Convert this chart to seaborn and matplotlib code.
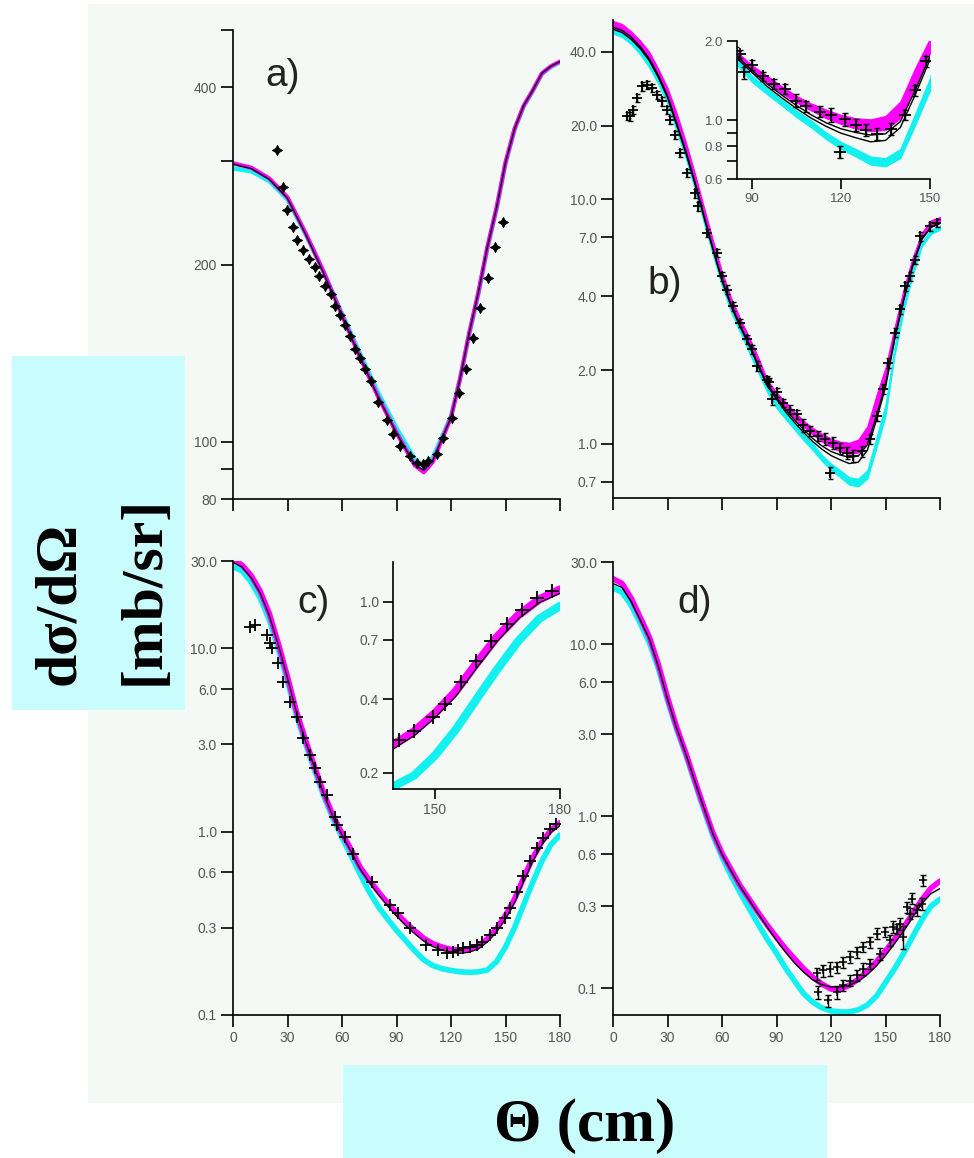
import matplotlib
matplotlib.use('Agg')
import matplotlib.pyplot as plt
import seaborn as sns
from matplotlib.patches import Rectangle
from matplotlib.ticker import FixedLocator, FixedFormatter, NullLocator

# ---------------- data ----------------
theta_a = [0, 10, 20, 30, 40, 50, 60, 70, 80, 90, 100, 105, 110, 120, 125, 130, 135, 140, 145, 150, 155, 160, 165, 170, 175, 180]
mag_a = [297, 292, 280, 260, 226, 194, 164, 139, 119, 103.6, 91.3, 88.8, 92.5, 110, 128, 153, 179, 214, 249, 298, 340, 372, 395, 422, 434, 442]
cyan_a = [291, 288, 277, 258, 225, 194, 165, 141, 121, 105.5, 93.5, 91, 94, 110.5, 128, 152, 178, 213, 248, 297, 339, 371, 394, 421, 433, 441]
black_a = [296, 291, 279, 259, 225, 193, 163.5, 139, 119, 103.5, 91.5, 89.5, 93, 110, 128, 153, 179, 214, 249, 298, 340, 372, 395, 422, 434, 442]
data_theta_a = [24.0, 27.7, 29.9, 32.8, 35.4, 38.7, 42.0, 45.1, 47.5, 50.6, 53.8, 56.1, 58.9, 61.7, 64.4, 67.2, 69.9, 72.7, 75.8, 80.0,
                84.6, 88.2, 91.9, 97.4, 101.1, 104.8, 107.5, 112.1, 115.8, 120.4, 124.6, 128.3, 131.9, 136.0, 140.5, 144.2, 148.4]
data_val_a = [313, 271, 247, 232, 220, 212, 204, 198, 191, 184, 178, 170, 164, 158, 151, 144, 139, 133, 127, 117,
              109, 103, 98.4, 94.6, 92.2, 91.6, 92.8, 95.2, 101.6, 110, 121, 133, 150, 169, 190, 214, 236]

theta_5 = [0, 5, 10, 15, 20, 25, 30, 35, 40, 45, 50, 55, 60, 65, 70, 75, 80, 85, 90, 95, 100,
           105, 110, 115, 120, 125, 130, 135, 140, 145, 150, 155, 160, 165, 170, 175, 180]

black1_b = [50.5, 49, 46, 42, 37.5, 32, 26.5, 20.5, 15.8, 11.8, 8.6, 6.3, 4.7, 3.7, 3.05, 2.55, 2.1, 1.75, 1.55, 1.38, 1.25,
            1.14, 1.05, 0.98, 0.93, 0.90, 0.88, 0.89, 0.99, 1.3, 1.75, 2.7, 3.9, 5.4, 6.9, 7.7, 8.0]
black2_b = [49.5, 48, 45, 41.2, 36.8, 31.4, 26, 20.1, 15.5, 11.6, 8.45, 6.2, 4.62, 3.64, 3.0, 2.51, 2.07, 1.72, 1.52, 1.35, 1.22,
            1.11, 1.02, 0.95, 0.895, 0.86, 0.83, 0.84, 0.94, 1.25, 1.7, 2.65, 3.85, 5.35, 6.85, 7.65, 7.95]
mag_lo_b = [50, 48.5, 45.5, 41.5, 37, 31.5, 26, 20.5, 15.8, 11.8, 8.6, 6.3, 4.7, 3.7, 3.05, 2.55, 2.1, 1.72, 1.52, 1.40, 1.27,
            1.17, 1.09, 1.02, 0.97, 0.93, 0.91, 0.92, 1.02, 1.33, 1.80, 2.75, 3.95, 5.4, 6.9, 7.8, 8.05]
mag_hi_b = [53.5, 52, 48.5, 44.5, 40, 34, 28.5, 22.5, 17.2, 12.8, 9.3, 6.8, 5.05, 3.95, 3.25, 2.72, 2.25, 1.82, 1.62, 1.48, 1.35,
            1.24, 1.16, 1.10, 1.05, 1.02, 1.01, 1.04, 1.18, 1.58, 2.05, 3.0, 4.3, 5.8, 7.3, 8.2, 8.45]
cyan_lo_b = [47.5, 46, 43, 39, 34.5, 29.5, 24.5, 19, 14.7, 11, 8.0, 5.9, 4.4, 3.45, 2.85, 2.35, 1.95, 1.62, 1.40, 1.26, 1.14,
             1.03, 0.94, 0.85, 0.78, 0.73, 0.68, 0.67, 0.72, 0.96, 1.30, 2.3, 3.5, 4.9, 6.4, 7.2, 7.5]
cyan_hi_b = [49.5, 48, 45, 41, 36.5, 31.5, 26, 20.5, 15.7, 11.7, 8.5, 6.25, 4.65, 3.65, 3.0, 2.5, 2.07, 1.72, 1.48, 1.33, 1.2,
             1.09, 1.0, 0.9, 0.83, 0.78, 0.73, 0.72, 0.78, 1.06, 1.45, 2.5, 3.75, 5.2, 6.7, 7.5, 7.8]
data_theta_b = [7.5, 9.4, 11.2, 13.0, 15.8, 18.5, 21.3, 24.0, 26.8, 29.5, 31.4, 34.1, 36.9, 40.6, 45.1, 47.0, 51.6, 57.1, 59.8, 62.6,
                66.2, 69.9, 73.6, 76.3, 79.1, 84.6, 86.0, 87.3, 90.1, 93.8, 97.4, 101.1, 104.8, 108.4, 113.0, 116.7, 119.6, 121.3,
                125.0, 128.6, 132.3, 136.9, 141.5, 145.1, 148.8, 151.6, 155.2, 158.0, 160.7, 163.5, 166.2, 169.0, 174.5, 178.2]
data_val_b = [21.9, 21.8, 23.2, 25.9, 28.9, 29.3, 28.4, 26.7, 25.1, 23.2, 21.1, 18.3, 15.4, 12.8, 10.6, 9.35, 7.28, 6.03, 4.84, 4.27,
              3.65, 3.12, 2.67, 2.43, 2.08, 1.83, 1.79, 1.52, 1.62, 1.47, 1.38, 1.32, 1.19, 1.13, 1.08, 1.05, 0.76, 1.01,
              0.96, 0.92, 0.89, 0.93, 1.05, 1.30, 1.68, 2.14, 2.84, 3.54, 4.41, 4.84, 5.66, 7.05, 7.74, 7.97]
data_err_b = [0.9, 0.9, 0.9, 1.0, 1.1, 1.1, 1.1, 1.0, 1.0, 0.9, 0.8, 0.7, 0.6, 0.5, 0.45, 0.4, 0.3, 0.25, 0.2, 0.18,
              0.15, 0.13, 0.11, 0.1, 0.09, 0.07, 0.06, 0.08, 0.07, 0.06, 0.06, 0.06, 0.07, 0.05, 0.05, 0.06, 0.04, 0.06,
              0.05, 0.05, 0.05, 0.05, 0.05, 0.06, 0.08, 0.1, 0.12, 0.15, 0.18, 0.2, 0.22, 0.28, 0.3, 0.3]

mag_c = [30.5, 28.5, 25.0, 20.5, 15.5, 10.6, 7.0, 4.5, 3.15, 2.25, 1.62, 1.23, 0.98, 0.80, 0.64, 0.545, 0.47, 0.41, 0.36, 0.32,
         0.288, 0.262, 0.245, 0.235, 0.228, 0.226, 0.229, 0.238, 0.26, 0.295, 0.35, 0.43, 0.56, 0.72, 0.88, 1.02, 1.12]
cyan_c = [27.9, 26.5, 23.0, 18.8, 14.3, 9.9, 6.6, 4.3, 3.0, 2.15, 1.56, 1.18, 0.93, 0.74, 0.585, 0.47, 0.39, 0.335, 0.29, 0.255,
          0.224, 0.2, 0.186, 0.179, 0.175, 0.172, 0.171, 0.172, 0.176, 0.195, 0.235, 0.30, 0.40, 0.53, 0.69, 0.85, 0.96]
black_c = [29.5, 27.8, 24.3, 20.0, 15.1, 10.4, 6.9, 4.45, 3.1, 2.22, 1.6, 1.21, 0.96, 0.78, 0.625, 0.53, 0.455, 0.395, 0.347, 0.308,
           0.278, 0.253, 0.236, 0.226, 0.219, 0.217, 0.22, 0.229, 0.25, 0.283, 0.335, 0.41, 0.535, 0.69, 0.85, 0.99, 1.08]
data_theta_c = [9.4, 12.1, 18.5, 20.3, 21.3, 24.9, 27.7, 31.4, 35.0, 38.7, 42.4, 45.1, 47.9, 51.6, 56.1, 57.1, 61.7, 66.2, 76.3, 86.4,
                90.9, 97.4, 106.5, 112.9, 117.6, 121.3, 124.0, 126.8, 130.5, 134.1, 136.9, 141.5, 145.1, 149.7, 152.5, 156.2,
                159.8, 163.5, 167.2, 170.8, 174.5, 178.0]
data_val_c = [13.1, 13.4, 11.8, 10.7, 10.0, 8.3, 6.58, 5.12, 4.24, 3.23, 2.62, 2.22, 1.87, 1.59, 1.21, 1.09, 0.94, 0.76, 0.534, 0.398,
              0.359, 0.297, 0.241, 0.226, 0.217, 0.222, 0.226, 0.231, 0.236, 0.240, 0.251, 0.273, 0.297, 0.337, 0.382, 0.47,
              0.57, 0.69, 0.81, 0.92, 1.03, 1.1]

mag_d = [24.0, 22.5, 18.5, 14.3, 11.0, 7.6, 4.9, 3.3, 2.35, 1.62, 1.13, 0.80, 0.61, 0.49, 0.395, 0.33, 0.275, 0.232, 0.198, 0.17,
         0.148, 0.13, 0.116, 0.106, 0.099, 0.099, 0.104, 0.113, 0.126, 0.143, 0.165, 0.193, 0.226, 0.272, 0.327, 0.382, 0.42]
cyan_d = [21.2, 20.0, 16.8, 13.2, 10.2, 7.2, 4.7, 3.2, 2.28, 1.57, 1.09, 0.77, 0.58, 0.45, 0.36, 0.29, 0.235, 0.192, 0.16, 0.131,
          0.11, 0.093, 0.083, 0.077, 0.074, 0.073, 0.073, 0.075, 0.08, 0.09, 0.108, 0.13, 0.16, 0.2, 0.25, 0.3, 0.33]
black_d = [22.5, 21.3, 17.7, 13.8, 10.7, 7.4, 4.8, 3.25, 2.32, 1.6, 1.12, 0.79, 0.6, 0.48, 0.39, 0.325, 0.27, 0.226, 0.19, 0.162,
           0.14, 0.124, 0.112, 0.105, 0.102, 0.102, 0.104, 0.11, 0.12, 0.135, 0.155, 0.182, 0.215, 0.26, 0.31, 0.355, 0.38]
data1_theta_d = [112.1, 115.8, 119.4, 123.1, 126.8, 130.5, 134.1, 137.8, 141.5, 145.1, 149.7, 154.3, 158.0, 161.7, 164.4, 170.8]
data1_val_d = [0.122, 0.127, 0.130, 0.133, 0.142, 0.152, 0.163, 0.174, 0.186, 0.208, 0.213, 0.227, 0.237, 0.297, 0.332, 0.425]
data1_err_d = [0.01, 0.01, 0.012, 0.01, 0.01, 0.012, 0.012, 0.012, 0.014, 0.015, 0.015, 0.018, 0.02, 0.022, 0.025, 0.03]
data2_theta_d = [113.0, 118.5, 123.1, 126.8, 130.5, 134.1, 137.8, 141.5, 147.0, 152.5, 156.2, 159.8, 163.5, 167.2, 169.9]
data2_val_d = [0.095, 0.085, 0.095, 0.104, 0.111, 0.119, 0.130, 0.139, 0.159, 0.190, 0.222, 0.199, 0.272, 0.284, 0.311]
data2_err_d = [0.008, 0.007, 0.008, 0.008, 0.008, 0.009, 0.01, 0.01, 0.012, 0.014, 0.016, 0.03, 0.02, 0.022, 0.025]

xticks_main = [0, 30, 60, 90, 120, 150, 180]
yt_a = [80, 90, 100, 200, 300, 400, 500]
ytl_a = ['80', '', '100', '200', '', '400', '']
yt_b = [0.7, 1.0, 2.0, 4.0, 7.0, 10.0, 20.0, 40.0]
yt_cd = [0.1, 0.3, 0.6, 1.0, 3.0, 6.0, 10.0, 30.0]
yt_bi = [0.6, 0.7, 0.8, 0.9, 1.0, 2.0]
ytl_bi = ['0.6', '', '0.8', '', '1.0', '2.0']
yt_ci = [0.2, 0.4, 0.7, 1.0]

# ---------------- style ----------------
sns.set_theme(style='ticks')
plt.rcParams['font.family'] = ['Liberation Sans', 'DejaVu Sans']

MAG = '#ff00ff'
CYA = '#12f0f0'
TICKC = '#555555'

W, H = 974, 1158
fig = plt.figure(figsize=(W / 100, H / 100), dpi=100)
fig.patch.set_facecolor('white')


def fr(l, t, r, b):
    return [l / W, 1 - b / H, (r - l) / W, (b - t) / H]


fig.add_artist(Rectangle((88 / W, 1 - 1103 / H), (974 - 88) / W, (1103 - 4) / H,
                         transform=fig.transFigure, facecolor='#f5f9f6', edgecolor='none', zorder=0))
fig.add_artist(Rectangle((12 / W, 1 - 710 / H), (185 - 12) / W, (710 - 356) / H,
                         transform=fig.transFigure, facecolor='#c9fdfd', edgecolor='none', zorder=1))
fig.add_artist(Rectangle((343 / W, 1 - 1158 / H), (827 - 343) / W, (1158 - 1065) / H,
                         transform=fig.transFigure, facecolor='#c9fdfd', edgecolor='none', zorder=1))


def style(ax, xlim, ylim, xt, xlabels, yt, ytl, tl=8.5, fs=10):
    ax.set_xlim(*xlim)
    ax.set_ylim(*ylim)
    for s in ['top', 'right']:
        ax.spines[s].set_visible(False)
    for s in ['left', 'bottom']:
        ax.spines[s].set_linewidth(1.2)
        ax.spines[s].set_color('black')
    ax.xaxis.set_major_locator(FixedLocator(xt))
    ax.xaxis.set_major_formatter(FixedFormatter([str(v) for v in xt] if xlabels else [''] * len(xt)))
    ax.xaxis.set_minor_locator(NullLocator())
    ax.yaxis.set_major_locator(FixedLocator(yt))
    ax.yaxis.set_major_formatter(FixedFormatter(ytl))
    ax.yaxis.set_minor_locator(NullLocator())
    ax.tick_params(direction='out', length=tl, width=1.2, color='black',
                   labelcolor=TICKC, labelsize=fs, pad=3)
    ax.set_xlabel('')
    ax.set_ylabel('')
    ax.grid(False)
    ax.patch.set_alpha(0)


def line(ax, x, y, color, lw, ls='-'):
    sns.lineplot(x=x, y=y, ax=ax, color=color, linewidth=lw, linestyle=ls,
                 estimator=None, sort=False, legend=False)


def new_ax(rect, face='none'):
    ax = fig.add_axes(rect)
    ax.set_yscale('log')
    ax.set_facecolor(face)
    return ax


def fmt1(v):
    return ['%.1f' % t for t in v]


# ---------- panel a ----------
ax = new_ax(fr(233, 30, 560, 499))
line(ax, theta_a, cyan_a, CYA, 3.2)
line(ax, theta_a, mag_a, MAG, 3.0)
line(ax, theta_a, black_a, 'black', 1.0)
sns.scatterplot(x=data_theta_a, y=data_val_a, ax=ax, marker=(4, 1, 0), s=55,
                color='black', edgecolor='black', linewidth=0.6, legend=False, zorder=5)
style(ax, (0, 180), (80, 500), xticks_main, False, yt_a, ytl_a)

# ---------- panel b ----------
def draw_b(ax, ms, cap):
    ax.fill_between(theta_5, cyan_lo_b, cyan_hi_b, color=CYA, linewidth=0.8, edgecolor=CYA)
    ax.fill_between(theta_5, mag_lo_b, mag_hi_b, color=MAG, linewidth=0.8, edgecolor=MAG)
    line(ax, theta_5, black1_b, 'black', 1.0)
    line(ax, theta_5, black2_b, 'black', 1.0)
    ax.errorbar(data_theta_b, data_val_b, yerr=data_err_b, fmt='none', ecolor='black',
                elinewidth=1.0, capsize=cap, capthick=1.0, zorder=5)
    sns.scatterplot(x=data_theta_b, y=data_val_b, ax=ax, marker='+', s=ms, color='black',
                    linewidth=1.3, legend=False, zorder=6)


ax = new_ax(fr(613, 20, 940, 498))
draw_b(ax, 45, 1.8)
style(ax, (0, 180), (0.6, 54), xticks_main, False, yt_b, fmt1(yt_b))

axi = new_ax(fr(737, 41, 930, 179), face='#f5f9f6')
draw_b(axi, 70, 2.5)
style(axi, (85, 150), (0.6, 2.0), [90, 120, 150], True, yt_bi, ytl_bi, tl=7, fs=9.5)
axi.patch.set_alpha(1)

# ---------- panel c ----------
def draw_c(ax, lwb, ms):
    line(ax, theta_5, cyan_c, CYA, lwb)
    line(ax, theta_5, mag_c, MAG, lwb)
    line(ax, theta_5, black_c, 'black', 0.9)
    sns.scatterplot(x=data_theta_c, y=data_val_c, ax=ax, marker='+', s=ms, color='black',
                    linewidth=1.3, legend=False, zorder=6)


ax = new_ax(fr(233, 561, 560, 1015))
draw_c(ax, 4.0, 70)
style(ax, (0, 180), (0.1, 30), xticks_main, True, yt_cd, fmt1(yt_cd))

axi = new_ax(fr(393, 562, 560, 789), face='#f5f9f6')
draw_c(axi, 6.0, 110)
style(axi, (140, 180), (0.172, 1.45), [150, 180], True, yt_ci, fmt1(yt_ci), tl=7, fs=10)
axi.patch.set_alpha(1)

# ---------- panel d ----------
ax = new_ax(fr(613, 562, 940, 1015))
line(ax, theta_5, cyan_d, CYA, 4.0)
line(ax, theta_5, mag_d, MAG, 4.0)
line(ax, theta_5, black_d, 'black', 1.0)
for th, v, e in [(data1_theta_d, data1_val_d, data1_err_d), (data2_theta_d, data2_val_d, data2_err_d)]:
    ax.errorbar(th, v, yerr=e, fmt='none', ecolor='black', elinewidth=1.0,
                capsize=2.5, capthick=1.0, zorder=5)
    sns.scatterplot(x=th, y=v, ax=ax, marker='+', s=35, color='black',
                    linewidth=1.1, legend=False, zorder=6)
style(ax, (0, 180), (0.07, 30), xticks_main, True, yt_cd, fmt1(yt_cd))

# ---------- labels ----------
for txt, x, y in [('a)', 265, 76), ('b)', 647, 284), ('c)', 297, 603), ('d)', 677, 603)]:
    fig.text(x / W, 1 - y / H, txt, fontsize=28, ha='left', va='center', color='#222222')

serif = ['Liberation Serif', 'DejaVu Serif']
fig.text(60 / W, 1 - 685 / H, 'dσ/dΩ', rotation=90, rotation_mode='anchor', ha='left', va='center',
         fontsize=43, fontweight='bold', family=serif, color='black', zorder=3)
fig.text(145 / W, 1 - 685 / H, '[mb/sr]', rotation=90, rotation_mode='anchor', ha='left', va='center',
         fontsize=43, fontweight='bold', family=serif, color='black', zorder=3)
fig.text(585 / W, 1 - 1141 / H, 'Θ (cm)', ha='center', va='baseline',
         fontsize=44, fontweight='bold', family=serif, color='black', zorder=3)

fig.savefig('out.png', dpi=100, facecolor='white')
